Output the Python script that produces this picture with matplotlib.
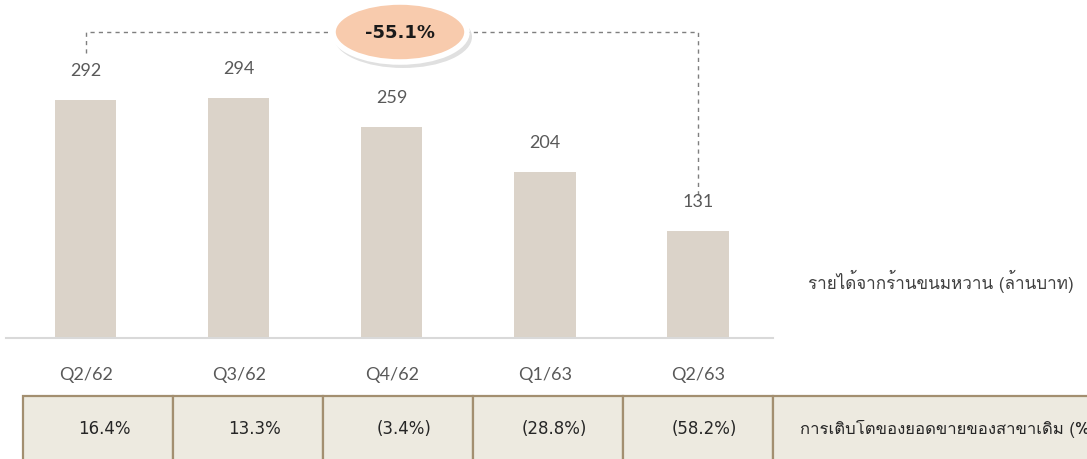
import matplotlib
matplotlib.use("Agg")
import matplotlib.pyplot as plt
from matplotlib import font_manager
from matplotlib.ft2font import FT2Font
from matplotlib.patches import Ellipse, Rectangle

quarters = ["Q2/62", "Q3/62", "Q4/62", "Q1/63", "Q2/63"]
revenue = [292, 294, 259, 204, 131]
sssg = ["16.4%", "13.3%", "(3.4%)", "(28.8%)", "(58.2%)"]
revenue_label = "รายได้จากร้านขนมหวาน (ล้านบาท)"
sssg_label = "การเติบโตของยอดขายของสาขาเดิม (%)"

W, H = 1087, 460


def find_thai_font():
    # look for any installed face that has Thai glyphs
    for f in font_manager.fontManager.ttflist:
        try:
            if FT2Font(f.fname).get_char_index(ord("ร")):
                return f.name
        except Exception:
            pass
    return "DejaVu Sans"


thai = [find_thai_font(), "DejaVu Sans"]
light = ["Lato", "DejaVu Sans"]

fig = plt.figure(figsize=(W / 100, H / 100), dpi=100)
ax = fig.add_axes([6 / W, 1 - 339 / H, (773 - 6) / W, 339 / H])

x = list(range(len(quarters)))
ax.bar(x, revenue, width=0.4, color="#dbd3c9", zorder=2)
ax.set_xlim(-0.52, 4.49)
ax.set_ylim(0, 416)

for xi, v in zip(x, revenue):
    ax.annotate(str(v), (xi, v), xytext=(0, 16), textcoords="offset points",
                ha="center", va="bottom", fontsize=13, color="#595959",
                family=light)

ax.set_xticks(x)
ax.set_xticklabels(quarters, fontsize=13, color="#595959", family=light)
ax.tick_params(axis="x", length=0, pad=20)
ax.set_yticks([])
for s in ["top", "right", "left"]:
    ax.spines[s].set_visible(False)
ax.spines["bottom"].set_color("#d9d9d9")
ax.spines["bottom"].set_linewidth(1.5)

# dashed bracket between first and last quarter
top = 375
ax.plot([x[0], x[0], x[-1], x[-1]],
        [revenue[0] + 58, top, top, revenue[-1] + 45],
        ls=(0, (3, 3)), color="#7f7f7f", lw=1, zorder=1, clip_on=False)

change = (revenue[-1] / revenue[0] - 1) * 100
cx, cy = 400 / W, 1 - 33 / H
fig.patches.append(Ellipse((cx + 3 / W, cy - 5 / H), 138 / W, 62 / H,
                           transform=fig.transFigure, facecolor="#000000",
                           alpha=0.12, edgecolor="none", zorder=5))
fig.patches.append(Ellipse((cx, cy), 134 / W, 60 / H, transform=fig.transFigure,
                           facecolor="#f8cbad", edgecolor="white", lw=4,
                           zorder=6))
fig.text(cx, cy, f"{change:.1f}%", ha="center", va="center", fontsize=13,
         fontweight="bold", color="#1a1a1a", zorder=7)

fig.text(808 / W, 1 - 281 / H, revenue_label, ha="left", va="center",
         fontsize=12.3, color="#404040", family=thai)

# growth table under the bars
edges = [23, 173, 323, 473, 623, 773, 1110]
ty0, ty1 = 397, 470
for i in range(len(edges) - 1):
    fig.patches.append(Rectangle((edges[i] / W, 1 - ty1 / H),
                                 (edges[i + 1] - edges[i]) / W, (ty1 - ty0) / H,
                                 transform=fig.transFigure, facecolor="#edeae0",
                                 edgecolor="#a38f70", lw=1.6))
for i, t in enumerate(sssg):
    fig.text((edges[i] + edges[i + 1]) / 2 / W + 6 / W, 1 - 429 / H, t,
             ha="center", va="center", fontsize=12, color="#262626")
fig.text(800 / W, 1 - 429 / H, sssg_label, ha="left", va="center",
         fontsize=12, color="#262626", family=thai)

fig.savefig("out.png", dpi=100)
